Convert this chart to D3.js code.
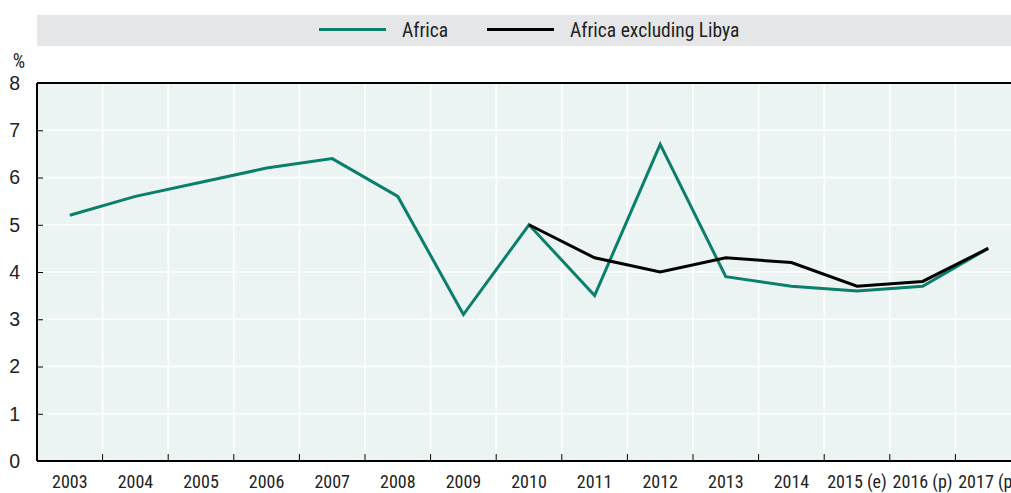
<!DOCTYPE html>
<html>
<head>
<meta charset="utf-8">
<script src="https://cdn.jsdelivr.net/npm/d3@7"></script>
<style>
  body { margin: 0; background: #fff; }
  svg { display: block; font-family: "Roboto Condensed", "Liberation Sans Narrow", sans-serif; }
</style>
</head>
<body>
<svg id="chart" width="1011" height="493"></svg>
<script>
// data
const years = ["2003", "2004", "2005", "2006", "2007", "2008", "2009", "2010",
               "2011", "2012", "2013", "2014", "2015 (e)", "2016 (p)", "2017 (p)"];
const africa = [5.2, 5.6, 5.9, 6.2, 6.4, 5.6, 3.1, 5.0, 3.5, 6.7, 3.9, 3.7, 3.6, 3.7, 4.5];
const africaExLibya = [null, null, null, null, null, null, null, 5.0, 4.3, 4.0, 4.3, 4.2, 3.7, 3.8, 4.5];
const yTicks = [0, 1, 2, 3, 4, 5, 6, 7, 8];

const seriesNames = ["Africa", "Africa excluding Libya"];
const seriesColors = ["#0b7f6a", "#000000"];

const svg = d3.select("#chart");
const margin = {top: 83, left: 37, bottom: 32};
const plotRight = 37 + 15 * 65.6;
const plotBottom = 493 - margin.bottom;
const fs = 19.5;

const x = d3.scaleBand().domain(years).range([margin.left, plotRight]);
const y = d3.scaleLinear().domain([0, 8]).range([plotBottom, margin.top]);

// legend band
svg.append("rect").attr("x", 37).attr("y", 15).attr("width", 974).attr("height", 31).attr("fill", "#e5e6e8");
const legendItems = [
  {name: seriesNames[0], color: seriesColors[0], x0: 319},
  {name: seriesNames[1], color: seriesColors[1], x0: 487}
];
legendItems.forEach(d => {
  svg.append("line").attr("x1", d.x0).attr("x2", d.x0 + 67).attr("y1", 29.5).attr("y2", 29.5)
    .attr("stroke", d.color).attr("stroke-width", 3);
  svg.append("text").attr("x", d.x0 + 83).attr("y", 37).attr("font-size", fs).attr("fill", "#222")
    .text(d.name);
});

// plot background
svg.append("rect").attr("x", margin.left).attr("y", margin.top)
  .attr("width", plotRight - margin.left).attr("height", plotBottom - margin.top).attr("fill", "#ebf4f3");

// gridlines
svg.append("g").selectAll("line").data(yTicks.slice(1, -1)).enter().append("line")
  .attr("x1", margin.left).attr("x2", plotRight)
  .attr("y1", d => y(d)).attr("y2", d => y(d))
  .attr("stroke", "#fff").attr("stroke-width", 1.5);
svg.append("g").selectAll("line").data(years.slice(1)).enter().append("line")
  .attr("x1", d => x(d)).attr("x2", d => x(d))
  .attr("y1", margin.top).attr("y2", plotBottom)
  .attr("stroke", "#fff").attr("stroke-width", 1.5);

// x axis: ticks at band boundaries pointing inward
const xAxis = svg.append("g").attr("transform", `translate(0,${plotBottom})`);
xAxis.append("line").attr("x1", margin.left).attr("x2", plotRight).attr("y1", 0).attr("y2", 0)
  .attr("stroke", "#000").attr("stroke-width", 2);
xAxis.selectAll("line.tk").data(years.slice(1)).enter().append("line").attr("class", "tk")
  .attr("x1", d => x(d)).attr("x2", d => x(d)).attr("y1", 0).attr("y2", -7)
  .attr("stroke", "#000").attr("stroke-width", 1);
xAxis.selectAll("text").data(years).enter().append("text")
  .attr("x", d => x(d) + x.bandwidth() / 2).attr("y", 27)
  .attr("text-anchor", "middle").attr("font-size", 18).attr("fill", "#222").text(d => d);

// y axis
const yAxis = svg.append("g").attr("transform", `translate(${margin.left},0)`)
  .call(d3.axisLeft(y).tickValues(yTicks).tickSize(-6).tickPadding(17).tickFormat(d3.format("d")));
yAxis.select(".domain").remove();
yAxis.selectAll(".tick line").attr("stroke", "#000");
yAxis.selectAll(".tick text").attr("font-size", fs).attr("fill", "#222").attr("font-family", null);
svg.append("line").attr("x1", margin.left).attr("x2", margin.left).attr("y1", margin.top).attr("y2", plotBottom)
  .attr("stroke", "#000").attr("stroke-width", 2);
svg.append("line").attr("x1", margin.left).attr("x2", plotRight).attr("y1", margin.top).attr("y2", margin.top)
  .attr("stroke", "#000").attr("stroke-width", 2);
svg.append("text").attr("x", 19).attr("y", 68).attr("text-anchor", "middle")
  .attr("font-size", fs).attr("fill", "#222").text("%");

// lines
const line = d3.line()
  .defined(d => d != null)
  .x((d, i) => x(years[i]) + x.bandwidth() / 2)
  .y(d => y(d));

[africa, africaExLibya].forEach((s, k) => {
  svg.append("path").datum(s).attr("d", line).attr("fill", "none")
    .attr("stroke", seriesColors[k]).attr("stroke-width", 3).attr("stroke-linejoin", "miter");
});
</script>
</body>
</html>
